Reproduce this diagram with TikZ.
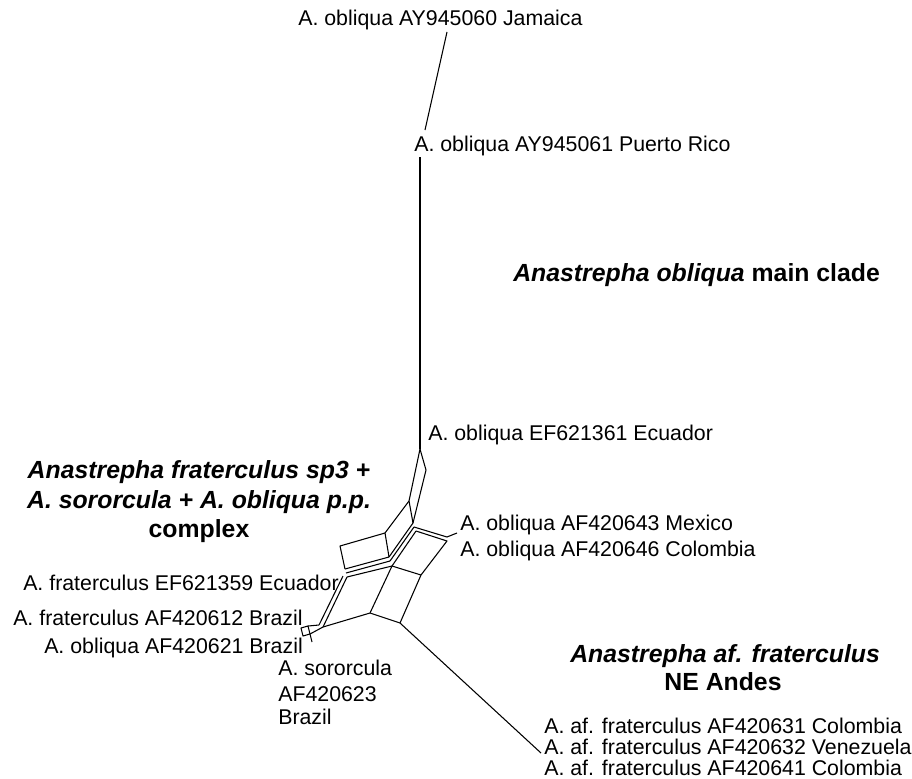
\documentclass[tikz,border=0pt]{standalone}
\usepackage{fontspec}
\setmainfont{Liberation Sans}
\begin{document}
\begin{tikzpicture}[x=0.75pt,y=-0.75pt,
  lbl/.style={anchor=base west, inner sep=0pt, font=\fontsize{16}{18}\selectfont},
  ttl/.style={inner sep=0pt, font=\fontsize{18.6}{22}\selectfont\bfseries},
  net/.style={draw=black, line width=0.8pt, line join=round}]
\useasboundingbox (0,0) rectangle (912,778);
% ---------- labels ----------
\node[lbl] (jam) at (298,26) {A. obliqua AY945060 Jamaica};
\node[lbl] (pr) at (414,151) {A. obliqua AY945061 Puerto Rico};
\node[ttl, anchor=base west] (t1) at (513,281) {\itshape Anastrepha obliqua\upshape{} main clade};
\node[lbl] (ecu1) at (428,440) {A. obliqua EF621361 Ecuador};
\node[ttl, anchor=base] (t2a) at (199,478) {\itshape Anastrepha fraterculus sp3 +};
\node[ttl, anchor=base] (t2b) at (199,508) {\itshape A. sororcula + A. obliqua p.p.};
\node[ttl, anchor=base] (t2c) at (199,537) {complex};
\node[lbl] (mex) at (460,530) {A. obliqua AF420643 Mexico};
\node[lbl] (col1) at (460,556) {A. obliqua AF420646 Colombia};
\node[lbl] (ecu2) at (23,590) {A. fraterculus EF621359 Ecuador};
\node[lbl] (bra1) at (13,625) {A. fraterculus AF420612 Brazil};
\node[lbl] (bra2) at (44,653) {A. obliqua AF420621 Brazil};
\node[lbl] (sor1) at (278,675) {A. sororcula};
\node[lbl] (sor2) at (278,701) {AF420623};
\node[lbl] (sor3) at (278,724) {Brazil};
\node[ttl, anchor=base west] (t3a) at (570,662) {\itshape Anastrepha af. fraterculus};
\node[ttl, anchor=base] (t3b) at (723,690) {NE Andes};
\node[lbl, align=left, font=\fontsize{16}{15.5}\selectfont] (af) at (544,775)
  {A. af. fraterculus AF420631 Colombia\\A. af. fraterculus AF420632 Venezuela\\A. af. fraterculus AF420641 Colombia};
% ---------- network points ----------
\coordinate (jtop) at (447,32);
\coordinate (jbot) at (425,130);
\coordinate (stop) at (420,157);
\coordinate (n0) at (420,449);
\coordinate (r1) at (426,470);
\coordinate (a) at (409,501);
\coordinate (c1) at (413,523);
\coordinate (c2) at (414,527);
\coordinate (c3) at (416,531);
\coordinate (b) at (385,533);
\coordinate (d1) at (389,557);
\coordinate (d2) at (390,561);
\coordinate (d3) at (392,566);
\coordinate (sqtl) at (340,546);
\coordinate (sqb1) at (345,569);
\coordinate (sqb2) at (346,573);
\coordinate (sqb3) at (347,577);
\coordinate (sqb0) at (343,576);
\coordinate (m1) at (447,537);
\coordinate (m2) at (447,541);
\coordinate (mt) at (457,533);
\coordinate (k) at (421,575);
\coordinate (f) at (370,613);
\coordinate (g) at (400,623);
\coordinate (tail) at (541,753);
\coordinate (h) at (323,627);
\coordinate (h2) at (319,625);
\coordinate (bx1) at (301,628);
\coordinate (bx2) at (308,626);
\coordinate (bx3) at (310,634);
\coordinate (bx4) at (303,636);
\coordinate (bt) at (312,642);
% ---------- network edges ----------
\draw[net] (jtop) -- (jbot);
\draw[net] (stop) -- (n0);
\draw[net] (n0) -- (r1) -- (c1);
\draw[net] (n0) -- (a) -- (c1);
\draw[net] (a) -- (b);
\draw[net] (b) -- (sqtl) -- (sqb1);
\draw[net] (b) -- (d1);
\draw[net] (sqb1) -- (d1);
\draw[net] (sqb2) -- (d2);
\draw[net] (sqb3) -- (d3);
\draw[net] (c1) -- (d1);
\draw[net] (c2) -- (d2);
\draw[net] (c3) -- (d3);
\draw[net] (c2) -- (m1) -- (mt);
\draw[net] (c3) -- (m2) -- (k);
\draw[net] (k) -- (d3);
\draw[net] (d3) -- (f);
\draw[net] (k) -- (g);
\draw[net] (f) -- (g);
\draw[net] (g) -- (tail);
\draw[net] (sqb3) -- (h);
\draw[net] (sqb0) -- (h2);
\draw[net] (f) -- (h);
\draw[net] (h) -- (bx3);
\draw[net] (h2) -- (bx2);
\draw[net] (bx1) -- (bx2) -- (bx3) -- (bx4) -- cycle;
\draw[net] (bx3) -- (bt);
\end{tikzpicture}
\end{document}
